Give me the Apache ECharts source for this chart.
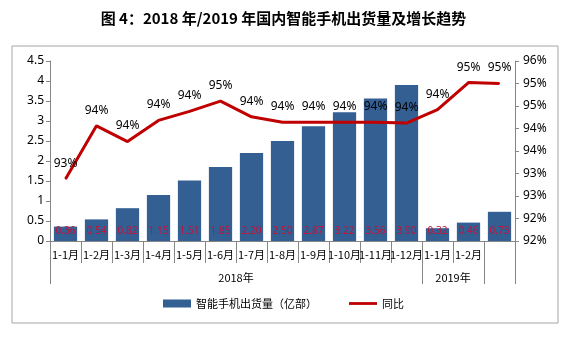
<!DOCTYPE html>
<html><head><meta charset="utf-8">
<script src="https://cdn.jsdelivr.net/npm/echarts@6/dist/echarts.min.js"></script>
<style>html,body{margin:0;padding:0;background:#fff}#c{width:567px;height:341px}</style>
</head><body><div id="c"></div>
<script>
const categories = ['1-1月','1-2月','1-3月','1-4月','1-5月','1-6月','1-7月','1-8月','1-9月','1-10月','1-11月','1-12月','1-1月','1-2月',''];
const shipments = [0.36,0.54,0.82,1.15,1.51,1.85,2.20,2.50,2.87,3.22,3.56,3.90,0.32,0.46,0.73];
const yoy = [93.38,94.56,94.21,94.68,94.88,95.11,94.76,94.64,94.64,94.64,94.64,94.62,94.92,95.52,95.50];
const groupNames = ['2018年','2019年'];
const groupStart = [0,12];
const groupEnd = [12,14];
const titleText = '图 4：2018 年/2019 年国内智能手机出货量及增长趋势';
const barName = '智能手机出货量（亿部）';
const lineName = '同比';

const FONT = '"Noto Sans","Noto Sans CJK SC",sans-serif';
const groupMids = groupNames.map((g,i)=>(groupStart[i]+groupEnd[i])/2);
const groupTicks = [0].concat(groupEnd).concat([categories.length]);

const chart = echarts.init(document.getElementById('c'));
chart.setOption({
  animation:false,
  textStyle:{fontFamily:FONT},
  title:{text:titleText,left:'center',top:6,textStyle:{fontSize:15,fontWeight:'bold',color:'#000',fontFamily:'"Noto Sans CJK SC",sans-serif'}},
  graphic:[{type:'rect',shape:{x:12,y:46,width:546,height:277},style:{fill:'none',stroke:'#a6a6a6',lineWidth:1},silent:true,z:-1}],
  legend:{bottom:27,left:'center',itemGap:32,itemWidth:28,itemHeight:8,
    textStyle:{fontSize:11,color:'#000',fontFamily:'"Noto Sans CJK SC",sans-serif'},
    data:[{name:barName,icon:'rect'},{name:lineName,icon:'path://M0,0 L30,0 L30,3 L0,3 Z'}]},
  grid:{left:50,right:52,top:61,bottom:100},
  xAxis:[{
    type:'category',data:categories,
    axisLine:{lineStyle:{color:'#868686'}},
    axisTick:{show:true,interval:0,length:22,lineStyle:{color:'#868686'}},
    axisLabel:{interval:0,fontSize:11,color:'#000',margin:8,fontFamily:'"Noto Sans CJK SC",sans-serif'}
  },{
    type:'value',min:0,max:categories.length,position:'bottom',
    axisLine:{show:false},splitLine:{show:false},
    axisTick:{show:true,length:43,customValues:groupTicks,lineStyle:{color:'#868686'}},
    axisLabel:{customValues:groupMids,margin:31,fontSize:11,color:'#000',fontFamily:'"Noto Sans CJK SC",sans-serif',
      formatter:function(v){const i=groupMids.indexOf(v);return i>=0?groupNames[i]:'';}}
  }],
  yAxis:[{
    type:'value',min:0,max:4.5,interval:0.5,
    axisLine:{show:true,lineStyle:{color:'#868686'}},
    axisTick:{show:true,length:4,lineStyle:{color:'#868686'}},
    splitLine:{show:false},
    axisLabel:{fontSize:12,color:'#000',margin:6}
  },{
    type:'value',min:92,max:96,interval:0.5,position:'right',
    axisLine:{show:true,lineStyle:{color:'#868686'}},
    axisTick:{show:true,length:4,lineStyle:{color:'#868686'}},
    splitLine:{show:false},
    axisLabel:{fontSize:12,color:'#000',margin:8,formatter:function(v){return Math.floor(v+1e-9)+'%';}}
  }],
  series:[{
    name:barName,type:'bar',data:shipments,xAxisIndex:0,yAxisIndex:0,
    barCategoryGap:'25%',
    itemStyle:{color:'#335f93'},
    label:{show:true,position:'insideBottom',distance:5,fontSize:10,color:'#c0143c',
      formatter:function(p){return p.value.toFixed(2);}}
  },{
    name:lineName,type:'line',data:yoy,xAxisIndex:0,yAxisIndex:1,
    symbol:'circle',symbolSize:1,showSymbol:true,
    lineStyle:{color:'#c00000',width:3},itemStyle:{color:'#c00000'},
    label:{show:true,position:'top',distance:9,fontSize:12,color:'#000',
      formatter:function(p){return Math.floor(p.value)+'%';}},
    labelLayout:{hideOverlap:false},
    z:3
  }]
});
</script></body></html>
